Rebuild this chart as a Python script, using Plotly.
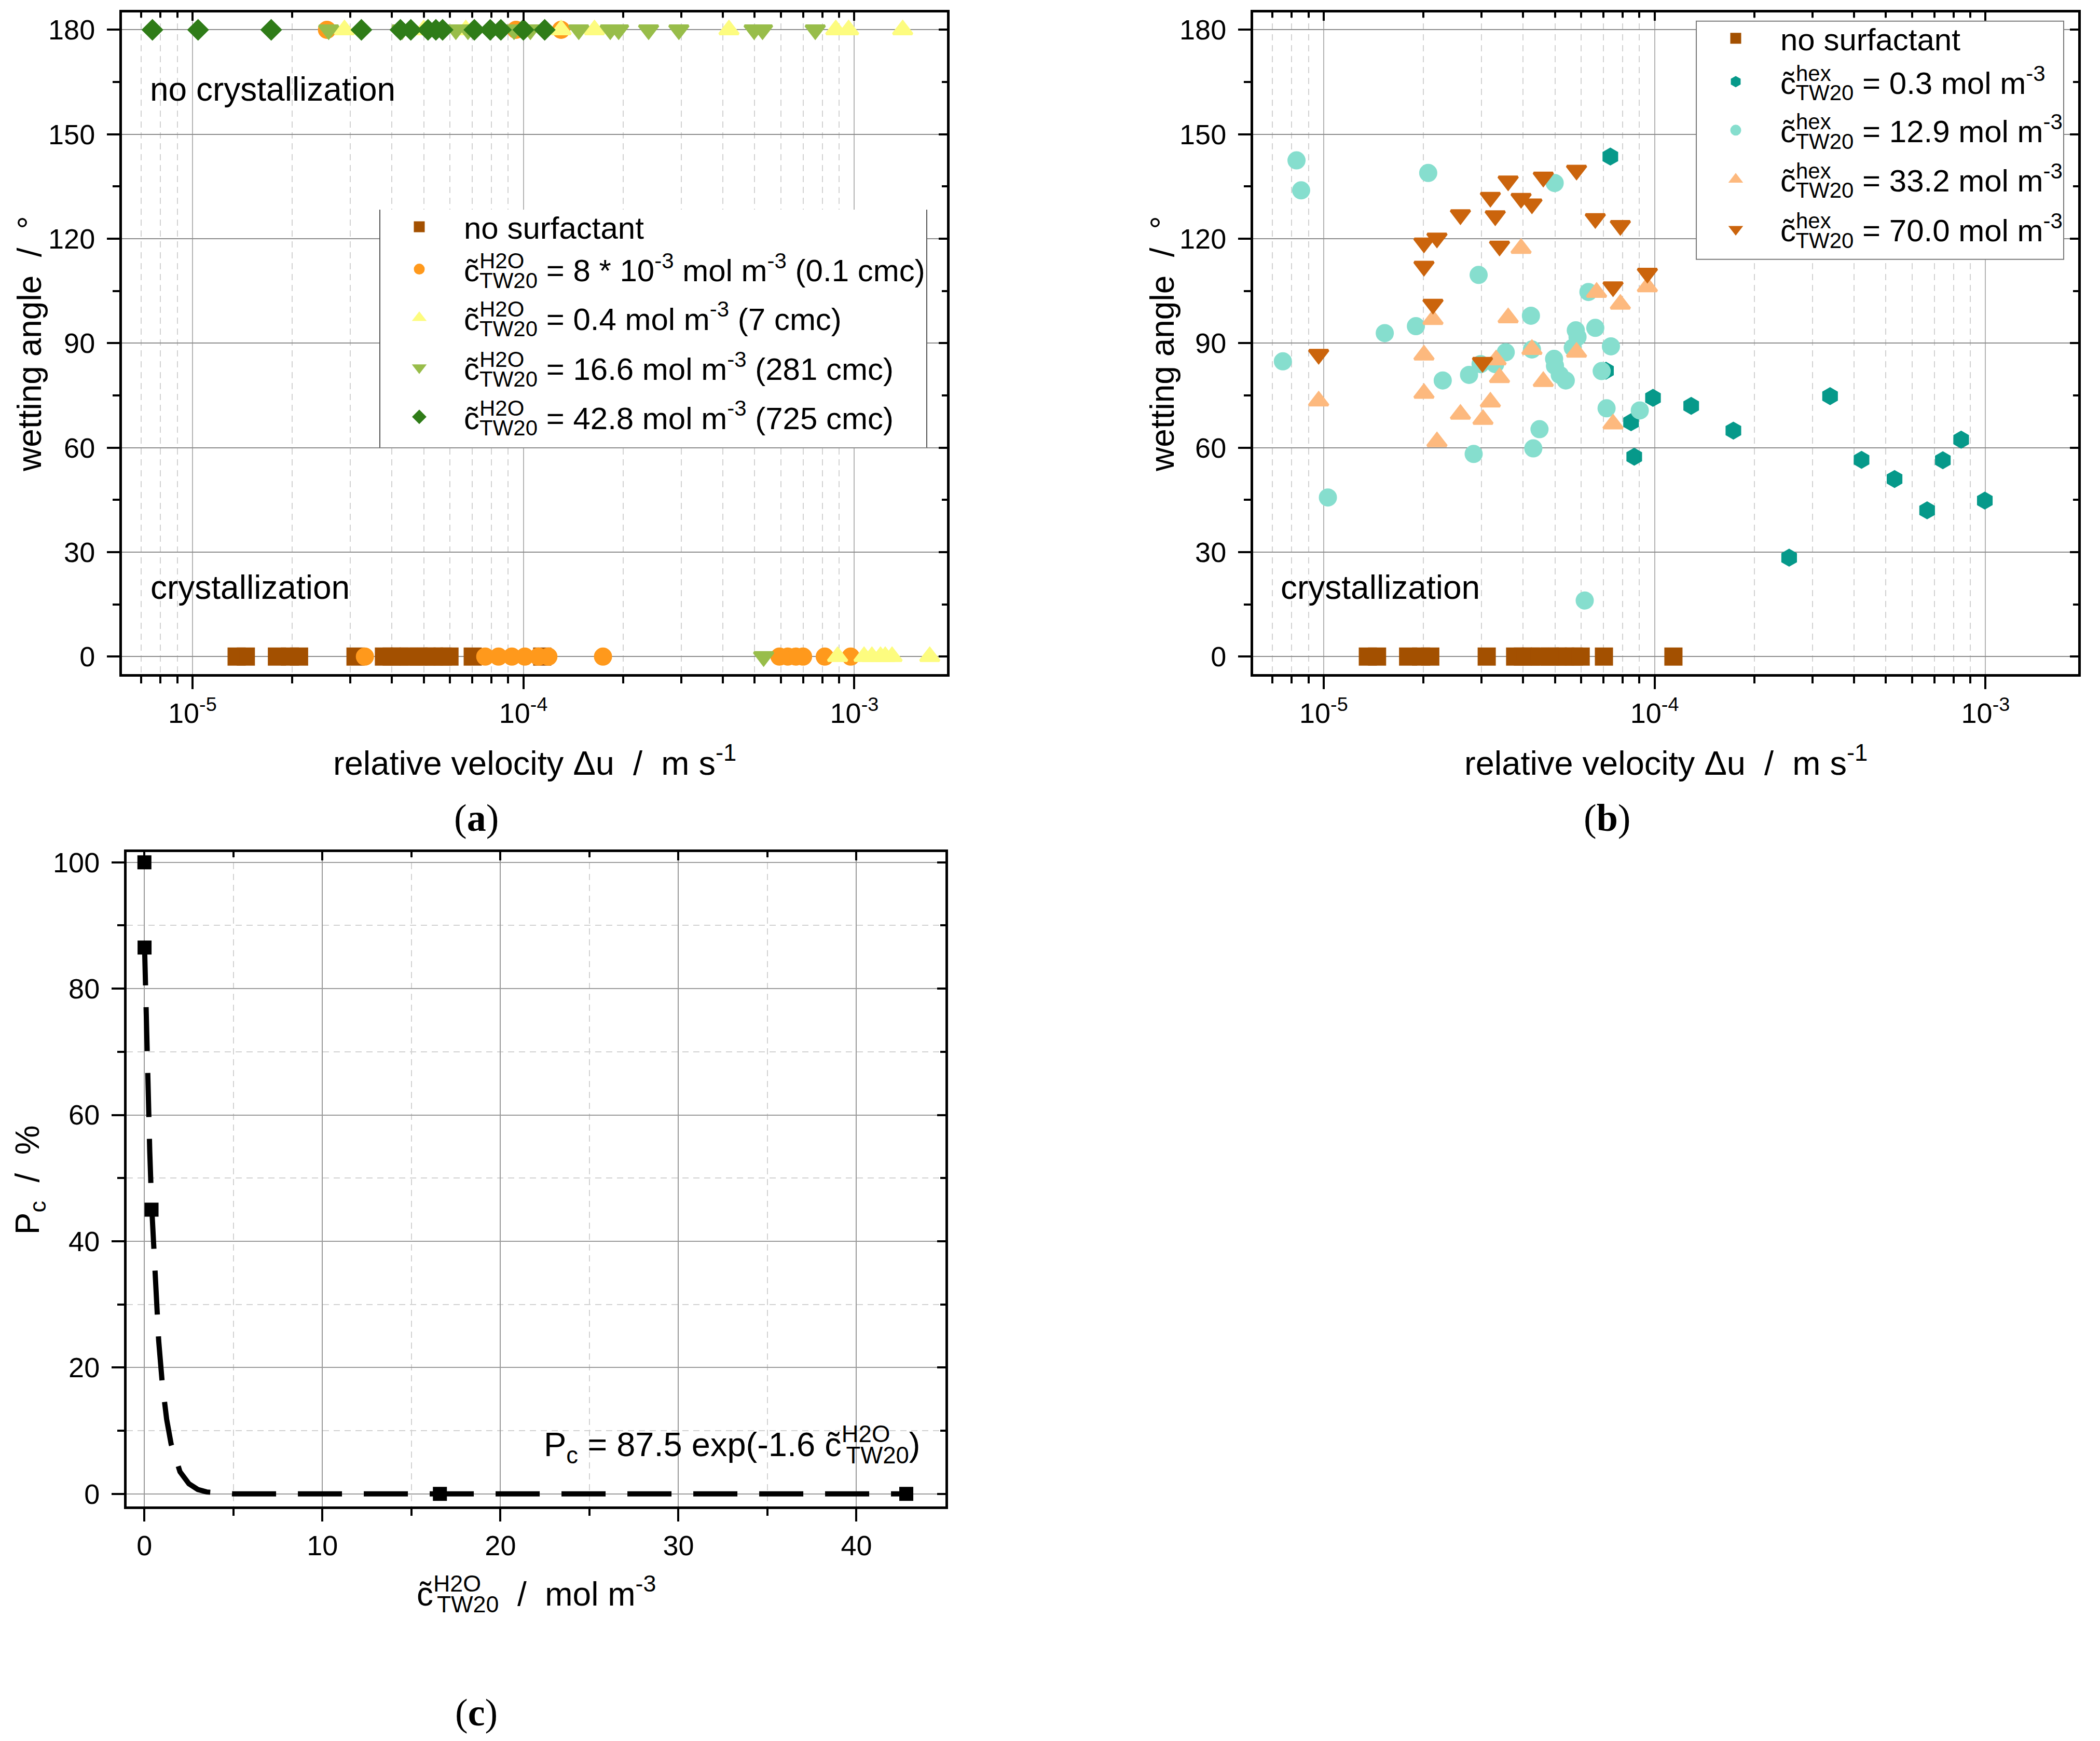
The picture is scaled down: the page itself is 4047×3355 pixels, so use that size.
import plotly.graph_objects as go

W, H = 4047, 3355
FONT = "Liberation Sans"
SERIF = "Liberation Serif"

# ------------------------------------------------------------------ data
# no surfactant (same measurements shown in (a) and (b)), wetting angle 0 = crystallization
ns_x = [1.36e-5, 1.45e-5, 1.80e-5, 1.97e-5, 2.10e-5, 3.11e-5, 3.79e-5, 4.0e-5, 4.23e-5,
        4.5e-5, 4.82e-5, 5.1e-5, 5.37e-5, 5.7e-5, 5.98e-5, 7.03e-5, 1.14e-4]
ns_y = [0, 0, 0, 0, 0, 0, 0, 0, 0, 0, 0, 0, 0, 0, 0, 0, 0]

# (a) TW20 dissolved in water
a1_x = [2.55e-5, 9.5e-5, 1.3e-4,
        3.32e-5, 7.67e-5, 8.41e-5, 9.23e-5, 1.01e-4, 1.11e-4, 1.19e-4, 1.74e-4,
        5.94e-4, 6.3e-4, 6.65e-4, 7.0e-4, 8.14e-4, 9.75e-4]
a1_y = [180, 180, 180,
        0, 0, 0, 0, 0, 0, 0, 0,
        0, 0, 0, 0, 0, 0]

a2_x = [2.88e-5, 5.0e-5, 6.7e-5, 1.30e-4, 1.64e-4, 4.18e-4, 8.79e-4, 9.61e-4, 1.40e-3,
        8.9e-4, 1.07e-3, 1.13e-3, 1.20e-3, 1.24e-3, 1.30e-3, 1.69e-3]
a2_y = [180, 180, 180, 180, 180, 180, 180, 180, 180,
        0, 0, 0, 0, 0, 0, 0]

a3_x = [2.58e-5, 4.3e-5, 6.25e-5, 6.8e-5, 9.37e-5, 1.05e-4, 1.47e-4, 1.83e-4, 1.94e-4,
        2.39e-4, 2.95e-4, 4.98e-4, 5.28e-4, 7.62e-4,
        5.32e-4]
a3_y = [180, 180, 180, 180, 180, 180, 180, 180, 180,
        180, 180, 180, 180, 180,
        0]

a4_x = [7.57e-6, 1.04e-5, 1.73e-5, 3.24e-5, 4.25e-5, 4.57e-5, 5.15e-5, 5.44e-5, 5.70e-5,
        7.11e-5, 7.94e-5, 8.55e-5, 1.0e-4, 1.16e-4]
a4_y = [180, 180, 180, 180, 180, 180, 180, 180, 180, 180, 180, 180, 180, 180]

# (b) TW20 dissolved in hexadecane
b1_x = [7.35e-5, 7.13e-5, 9.89e-5, 8.49e-5, 8.68e-5, 1.29e-4, 1.73e-4, 2.55e-4, 3.39e-4,
        4.22e-4, 5.31e-4, 6.66e-4, 7.43e-4, 8.44e-4, 9.95e-4]
b1_y = [143.6, 82.1, 74.3, 67.3, 57.4, 72.0, 64.9, 28.4, 74.8,
        56.5, 51.0, 42.0, 56.4, 62.3, 44.8]

b2_x = [7.53e-6, 8.28e-6, 8.55e-6, 1.03e-5, 1.53e-5, 1.90e-5, 2.07e-5, 2.29e-5, 2.75e-5,
        2.84e-5, 2.94e-5, 2.98e-5, 3.3e-5, 3.55e-5, 4.23e-5, 4.26e-5, 4.49e-5, 4.30e-5,
        4.99e-5, 4.97e-5, 5.0e-5, 5.17e-5, 5.39e-5, 5.66e-5, 5.78e-5, 5.85e-5, 6.15e-5,
        6.31e-5, 6.62e-5, 6.92e-5, 7.16e-5, 7.38e-5, 9.02e-5]
b2_y = [84.8, 142.5, 133.9, 45.7, 92.9, 94.9, 138.9, 79.3, 80.9,
        58.2, 109.6, 84.0, 84.0, 87.4, 97.9, 88.2, 65.3, 59.8,
        136.0, 85.5, 83.5, 80.9, 79.3, 88.7, 93.7, 91.8, 16.1,
        104.7, 94.4, 82.0, 71.3, 89.1, 70.7]

b3_x = [9.66e-6, 2.01e-5, 2.01e-5, 2.14e-5, 2.20e-5, 2.59e-5, 3.03e-5, 3.19e-5, 3.32e-5,
        3.40e-5, 3.61e-5, 3.95e-5, 4.26e-5, 4.61e-5, 5.81e-5, 6.68e-5, 7.49e-5, 7.88e-5,
        9.51e-5]
b3_y = [73.4, 86.6, 75.6, 96.8, 61.7, 69.6, 68.1, 73.1, 85.2,
        80.1, 97.3, 117.2, 88.2, 79.0, 87.4, 104.6, 66.8, 101.2,
        106.2]

b4_x = [9.66e-6, 2.01e-5, 2.01e-5, 2.14e-5, 2.20e-5, 2.59e-5, 3.02e-5, 3.19e-5, 3.30e-5,
        3.40e-5, 3.61e-5, 3.95e-5, 4.26e-5, 4.61e-5, 5.81e-5, 6.62e-5, 7.49e-5, 7.88e-5,
        9.51e-5]
b4_y = [86.8, 118.8, 112.1, 101.2, 120.2, 126.9, 84.5, 131.9, 126.6,
        117.9, 136.6, 131.6, 130.0, 137.7, 139.7, 125.8, 106.2, 123.8,
        110.1]

# (c) crystallization probability vs. TW20 concentration
c_x = [0, 0.008, 0.4, 16.6, 42.8]
c_y = [100, 86.5, 45, 0, 0]
fit_x = [0, 0.1, 0.2, 0.3, 0.4, 0.6, 0.8, 1.0, 1.25, 1.5, 2.0, 2.5, 3.0, 3.5, 5, 10, 20, 30, 42.8]
fit_y = [87.5, 74.6, 63.5, 54.2, 46.0, 33.5, 24.3, 17.6, 11.8, 7.9, 3.5, 1.6, 0.7, 0.3, 0, 0, 0, 0, 0]

# ticks
log_major = [1e-5, 1e-4, 1e-3]
log_major_text = ["10<sup>-5</sup>", "10<sup>-4</sup>", "10<sup>-3</sup>"]
log_minor = [7e-6, 8e-6, 9e-6,
             2e-5, 3e-5, 4e-5, 5e-5, 6e-5, 7e-5, 8e-5, 9e-5,
             2e-4, 3e-4, 4e-4, 5e-4, 6e-4, 7e-4, 8e-4, 9e-4]
ang_major = [0, 30, 60, 90, 120, 150, 180]
ang_minor = [15, 45, 75, 105, 135, 165]
c_xmajor = [0, 10, 20, 30, 40]
c_xminor = [5, 15, 25, 35]
c_ymajor = [0, 20, 40, 60, 80, 100]
c_yminor = [10, 30, 50, 70, 90]

# ------------------------------------------------------------------ helpers
def px(xp):
    return xp / W


def py(yp):
    return 1 - yp / H


def ctil(sup, sub, back):
    return ("c\u0303<sup>%s</sup><span style=\"letter-spacing:-%dpx\">\u00a0</span><sub>%s</sub>"
            % (sup, back, sub))


H2O = ctil("H2O", "TW20", 103)
HEX = ctil("hex", "TW20", 85)
SP2 = "\u00a0\u00a0"

fig = go.Figure()

legend_cfg = {}


def add_series(x, y, name, sym, color, size, xa, ya, leg, lx, ly):
    fig.add_trace(go.Scatter(
        x=x, y=y, mode="markers", name=name, legend=leg, xaxis=xa, yaxis=ya,
        marker=dict(symbol=sym, color=color, size=size, line=dict(color=color, width=5)),
        hoverinfo="skip"))
    legend_cfg[leg] = dict(x=px(lx), y=py(ly), xanchor="left", yanchor="middle",
                           bgcolor="rgba(0,0,0,0)", borderwidth=0, itemwidth=162,
                           font=dict(family=FONT, size=60, color="black"))


LXA = 808 - 86
LXB = 3345 - 86
DY = 9
add_series(ns_x, ns_y, "no surfactant", "square", "#A35000", 30, "x", "y", "legend", LXA, 437 - DY)
add_series(a1_x, a1_y, H2O + " = 8 * 10<sup>-3</sup> mol m<sup>-3</sup> (0.1 cmc)", "circle",
           "#FF991C", 30, "x", "y", "legend2", LXA, 519 - DY)
add_series(a2_x, a2_y, H2O + " = 0.4 mol m<sup>-3</sup> (7 cmc)", "triangle-up",
           "#FDFC7F", 32, "x", "y", "legend3", LXA, 613 - DY)
add_series(a3_x, a3_y, H2O + " = 16.6 mol m<sup>-3</sup> (281 cmc)", "triangle-down",
           "#98BD4A", 32, "x", "y", "legend4", LXA, 710 - DY)
add_series(a4_x, a4_y, H2O + " = 42.8 mol m<sup>-3</sup> (725 cmc)", "diamond",
           "#2F7C18", 27, "x", "y", "legend5", LXA, 805 - DY)

add_series(ns_x, ns_y, "no surfactant", "square", "#A35000", 30, "x2", "y2", "legend6", LXB, 72 - DY)
add_series(b1_x, b1_y, HEX + " = 0.3 mol m<sup>-3</sup>", "hexagon",
           "#06998A", 29, "x2", "y2", "legend7", LXB, 156 - DY)
add_series(b2_x, b2_y, HEX + " = 12.9 mol m<sup>-3</sup>", "circle",
           "#86DECE", 30, "x2", "y2", "legend8", LXB, 250 - DY)
add_series(b3_x, b3_y, HEX + " = 33.2 mol m<sup>-3</sup>", "triangle-up",
           "#FDB97E", 32, "x2", "y2", "legend9", LXB, 345 - DY)
add_series(b4_x, b4_y, HEX + " = 70.0 mol m<sup>-3</sup>", "triangle-down",
           "#CB640C", 32, "x2", "y2", "legend10", LXB, 442 - DY)

# (c)
fig.add_trace(go.Scatter(x=fit_x, y=fit_y, mode="lines", xaxis="x3", yaxis="y3",
                         line=dict(color="black", width=10, dash="85px,42px"),
                         showlegend=False, hoverinfo="skip"))
fig.add_trace(go.Scatter(x=c_x, y=c_y, mode="markers", xaxis="x3", yaxis="y3",
                         marker=dict(symbol="square", color="black", size=27),
                         showlegend=False, hoverinfo="skip"))

# dummy traces that carry the mirrored (inward) tick axes
for xa, ya in [("x4", "y"), ("x", "y4"), ("x5", "y2"), ("x2", "y5"), ("x6", "y3"), ("x3", "y6")]:
    fig.add_trace(go.Scatter(x=[], y=[], xaxis=xa, yaxis=ya, showlegend=False, hoverinfo="skip"))

# ------------------------------------------------------------------ axes
TICKFONT = dict(family=FONT, size=54, color="black")
LOGR = [-5.213, -2.72]
ANGR = [-5, 185]


def main_axis(domain, anchor, rng, typ, tv, tt, mv, gridcol, minor_grid, standoff, ticklen=24):
    d = dict(domain=domain, anchor=anchor, range=rng, type=typ, autorange=False,
             showline=True, linecolor="black", linewidth=5, mirror=True,
             ticks="outside", ticklen=ticklen, tickwidth=4, tickcolor="black",
             tickmode="array", tickvals=tv, ticktext=tt, tickfont=TICKFONT,
             ticklabelstandoff=standoff,
             showgrid=True, gridcolor=gridcol, gridwidth=2, zeroline=False,
             minor=dict(tickmode="array", tickvals=mv, ticks="outside", ticklen=13,
                        tickwidth=4, tickcolor="black", showgrid=minor_grid,
                        gridcolor="#D2D2D2", gridwidth=2, griddash="12px,9px"))
    return d


def mirror_axis(over, anchor, side, rng, typ, tv, mv):
    return dict(overlaying=over, anchor=anchor, side=side, range=rng, type=typ, autorange=False,
                showline=False, ticks="inside", ticklen=16, tickwidth=4, tickcolor="black",
                tickmode="array", tickvals=tv, showticklabels=False, showgrid=False,
                zeroline=False,
                minor=dict(tickmode="array", tickvals=mv, ticks="inside", ticklen=10,
                           tickwidth=4, tickcolor="black", showgrid=False))


XA = [px(235), px(1825)]
XB = [px(2415), px(4005)]
XC = [px(244), px(1822)]
YAB = [py(1294), py(13)]
YC = [py(2906), py(1639)]

lay = dict(
    xaxis=main_axis(XA, "y", LOGR, "log", log_major, log_major_text, log_minor, "#B4B4B4", True, 0),
    yaxis=main_axis(YAB, "x", ANGR, "linear", ang_major, [str(v) for v in ang_major], ang_minor,
                    "#8C8C8C", False, 12),
    xaxis2=main_axis(XB, "y2", LOGR, "log", log_major, log_major_text, log_minor, "#B4B4B4", True, 0),
    yaxis2=main_axis(YAB, "x2", ANGR, "linear", ang_major, [str(v) for v in ang_major], ang_minor,
                     "#8C8C8C", False, 12),
    xaxis3=main_axis(XC, "y3", [-1, 45], "linear", c_xmajor, [str(v) for v in c_xmajor], c_xminor,
                     "#9A9A9A", True, 0),
    yaxis3=main_axis(YC, "x3", [-2, 101.6], "linear", c_ymajor, [str(v) for v in c_ymajor], c_yminor,
                     "#9A9A9A", True, 12),
    xaxis4=mirror_axis("x", "y", "top", LOGR, "log", log_major, log_minor),
    yaxis4=mirror_axis("y", "x", "right", ANGR, "linear", ang_major, ang_minor),
    xaxis5=mirror_axis("x2", "y2", "top", LOGR, "log", log_major, log_minor),
    yaxis5=mirror_axis("y2", "x2", "right", ANGR, "linear", ang_major, ang_minor),
    xaxis6=mirror_axis("x3", "y3", "top", [-1, 45], "linear", c_xmajor, c_xminor),
    yaxis6=mirror_axis("y3", "x3", "right", [-2, 101.6], "linear", c_ymajor, c_yminor),
)
fig.update_layout(**lay)
fig.update_layout(**legend_cfg)

# ------------------------------------------------------------------ legend boxes
shapes = [
    dict(type="rect", xref="paper", yref="paper", x0=px(732), x1=px(1786), y0=py(856), y1=py(395),
         fillcolor="white", line=dict(width=0), layer="above"),
    dict(type="line", xref="paper", yref="paper", x0=px(732), x1=px(732), y0=py(856), y1=py(395),
         line=dict(color="#555555", width=2), layer="above"),
    dict(type="line", xref="paper", yref="paper", x0=px(1786), x1=px(1786), y0=py(856), y1=py(395),
         line=dict(color="#555555", width=2), layer="above"),
    dict(type="line", xref="paper", yref="paper", x0=px(732), x1=px(1786), y0=py(856), y1=py(856),
         line=dict(color="#8C8C8C", width=2), layer="above"),
    dict(type="rect", xref="paper", yref="paper", x0=px(3269), x1=px(3977), y0=py(491), y1=py(30),
         fillcolor="white", line=dict(color="#7A7A7A", width=2), layer="above"),
]

# ------------------------------------------------------------------ texts
TF = dict(family=FONT, size=65, color="black")
YTF = dict(family=FONT, size=64, color="black")


def ann(text, x, y, xanchor="center", yanchor="middle", angle=0, font=TF):
    return dict(text=text, x=px(x), y=py(y), xref="paper", yref="paper", showarrow=False,
                xanchor=xanchor, yanchor=yanchor, textangle=angle, font=font)


PF = dict(family=SERIF, size=74, color="black")
IF = dict(family=FONT, size=64, color="black")
anns = [
    ann("no crystallization", 287, 162, xanchor="left", font=IF),
    ann("crystallization", 288, 1126, xanchor="left", font=IF),
    ann("crystallization", 2466, 1126, xanchor="left", font=IF),
    ann("relative velocity \u0394u" + SP2 + "/" + SP2 + "m s<sup>-1</sup>", 1030, 1462),
    ann("relative velocity \u0394u" + SP2 + "/" + SP2 + "m s<sup>-1</sup>", 3210, 1462),
    ann("wetting angle" + SP2 + "/" + SP2 + "\u00b0", 57, 655, angle=-90, font=YTF),
    ann("wetting angle" + SP2 + "/" + SP2 + "\u00b0", 2240, 655, angle=-90, font=YTF),
    ann("P<sub>c</sub>" + SP2 + "/" + SP2 + "%", 57, 2274, angle=-90, font=YTF),
    ann(H2O + SP2 + "/" + SP2 + "mol m<sup>-3</sup>", 1033, 3075, font=YTF),
    ann("P<sub>c</sub> = 87.5 exp(-1.6 " + H2O + ")", 1775, 2786, xanchor="right",
        font=dict(family=FONT, size=65, color="black")),
    ann("(<b>a</b>)", 918, 1572, font=PF),
    ann("(<b>b</b>)", 3097, 1572, font=PF),
    ann("(<b>c</b>)", 918, 3305, font=PF),
]

fig.update_layout(
    width=W, height=H, margin=dict(l=0, r=0, t=0, b=0),
    paper_bgcolor="white", plot_bgcolor="white",
    shapes=shapes, annotations=anns,
    font=dict(family=FONT, color="black"),
)

fig.write_html("out.html", config={"displayModeBar": False},
               post_script="document.body.style.margin='0px';")
